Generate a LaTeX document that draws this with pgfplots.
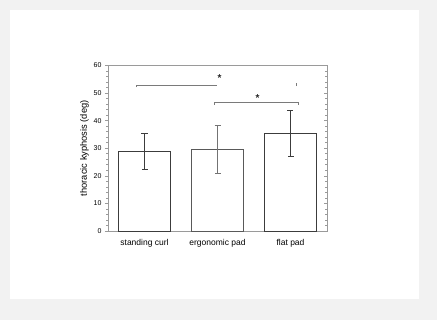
\documentclass[border=0pt]{standalone}
\usepackage{pgfplots}
\pgfplotsset{compat=1.18}
\usepackage{fontspec}
\setmainfont{Liberation Sans}
\definecolor{frame}{HTML}{F2F2F2}
\definecolor{axgray}{HTML}{9A9A9A}
\definecolor{bargray}{HTML}{3C3C3C}
\definecolor{brk}{HTML}{7A7A7A}
\begin{document}
\begin{tikzpicture}[x=1pt,y=1pt]
\useasboundingbox (0,0) rectangle (437,320);
\fill[frame] (0,0) rectangle (437,320);
\fill[white] (10,21) rectangle (419,310);
\begin{axis}[
  at={(108pt,89pt)}, anchor=south west,
  scale only axis, width=219pt, height=165.5pt,
  xmin=-0.5, xmax=2.5, ymin=0, ymax=60,
  xtick={0,1,2}, xticklabels={standing curl, ergonomic pad, flat pad},
  x tick label style={font=\fontsize{8.5}{10}\selectfont, yshift=-2pt},
  xtick style={draw=none},
  ytick={0,10,...,60}, minor y tick num=4,
  ytick pos=left, tick align=outside,
  major tick length=3pt, minor tick length=1.8pt,
  y tick label style={font=\fontsize{7}{8}\selectfont},
  /pgf/number format/assume math mode=true,
  ylabel={thoracic kyphosis (deg)},
  ylabel style={font=\fontsize{9.3}{11}\selectfont, yshift=-2pt},
  axis line style={axgray, line width=0.8pt},
  every tick/.style={axgray, line width=0.6pt},
  clip=false,
]
\addplot[ybar, bar width=0.71, bar shift=0pt, draw=bargray, fill=white, line width=0.8pt,
  error bars/.cd, y dir=both, y explicit,
  error bar style={bargray, line width=0.8pt},
  error mark options={rotate=90, bargray, mark size=3pt, line width=0.8pt}]
  coordinates {(0,29.0) +- (0,6.5)};
\addplot[ybar, bar width=0.71, bar shift=0pt, draw=bargray!85, fill=white, line width=0.8pt,
  error bars/.cd, y dir=both, y explicit,
  error bar style={black!55, line width=0.7pt},
  error mark options={rotate=90, black!55, mark size=3pt, line width=0.7pt}]
  coordinates {(1,29.6) +- (0,8.6)};
\addplot[ybar, bar width=0.71, bar shift=0pt, draw=bargray, fill=white, line width=0.8pt,
  error bars/.cd, y dir=both, y explicit,
  error bar style={bargray, line width=0.8pt},
  error mark options={rotate=90, bargray, mark size=3pt, line width=0.8pt}]
  coordinates {(2,35.4) +- (0,8.2)};
% significance brackets
\addplot[brk, line width=0.6pt] coordinates {(-0.11,52.2) (-0.11,53) (0.99,53)};
\addplot[brk, line width=0.6pt] coordinates {(2.08,52.5) (2.08,53.5)};
\addplot[brk, line width=0.6pt] coordinates {(0.95,45.8) (0.95,46.5) (2.10,46.5) (2.10,45.8)};
\node[font=\fontsize{10}{10}\selectfont\bfseries, text=black!85] at (axis cs:1.03,55.4) {*};
\node[font=\fontsize{10}{10}\selectfont\bfseries, text=black!85] at (axis cs:1.55,48.3) {*};
\end{axis}
\begin{axis}[
  at={(108pt,89pt)}, anchor=south west,
  scale only axis, width=219pt, height=165.5pt,
  xmin=-0.5, xmax=2.5, ymin=0, ymax=60,
  axis x line=none, axis y line*=right,
  ytick={0,10,...,60}, minor y tick num=4, yticklabels={},
  tick align=inside,
  major tick length=3pt, minor tick length=1.8pt,
  axis line style={axgray, line width=0.8pt, -},
  every tick/.style={axgray, line width=0.6pt},
]
\addplot[draw=none] coordinates {(0,0)};
\end{axis}
\end{tikzpicture}
\end{document}
